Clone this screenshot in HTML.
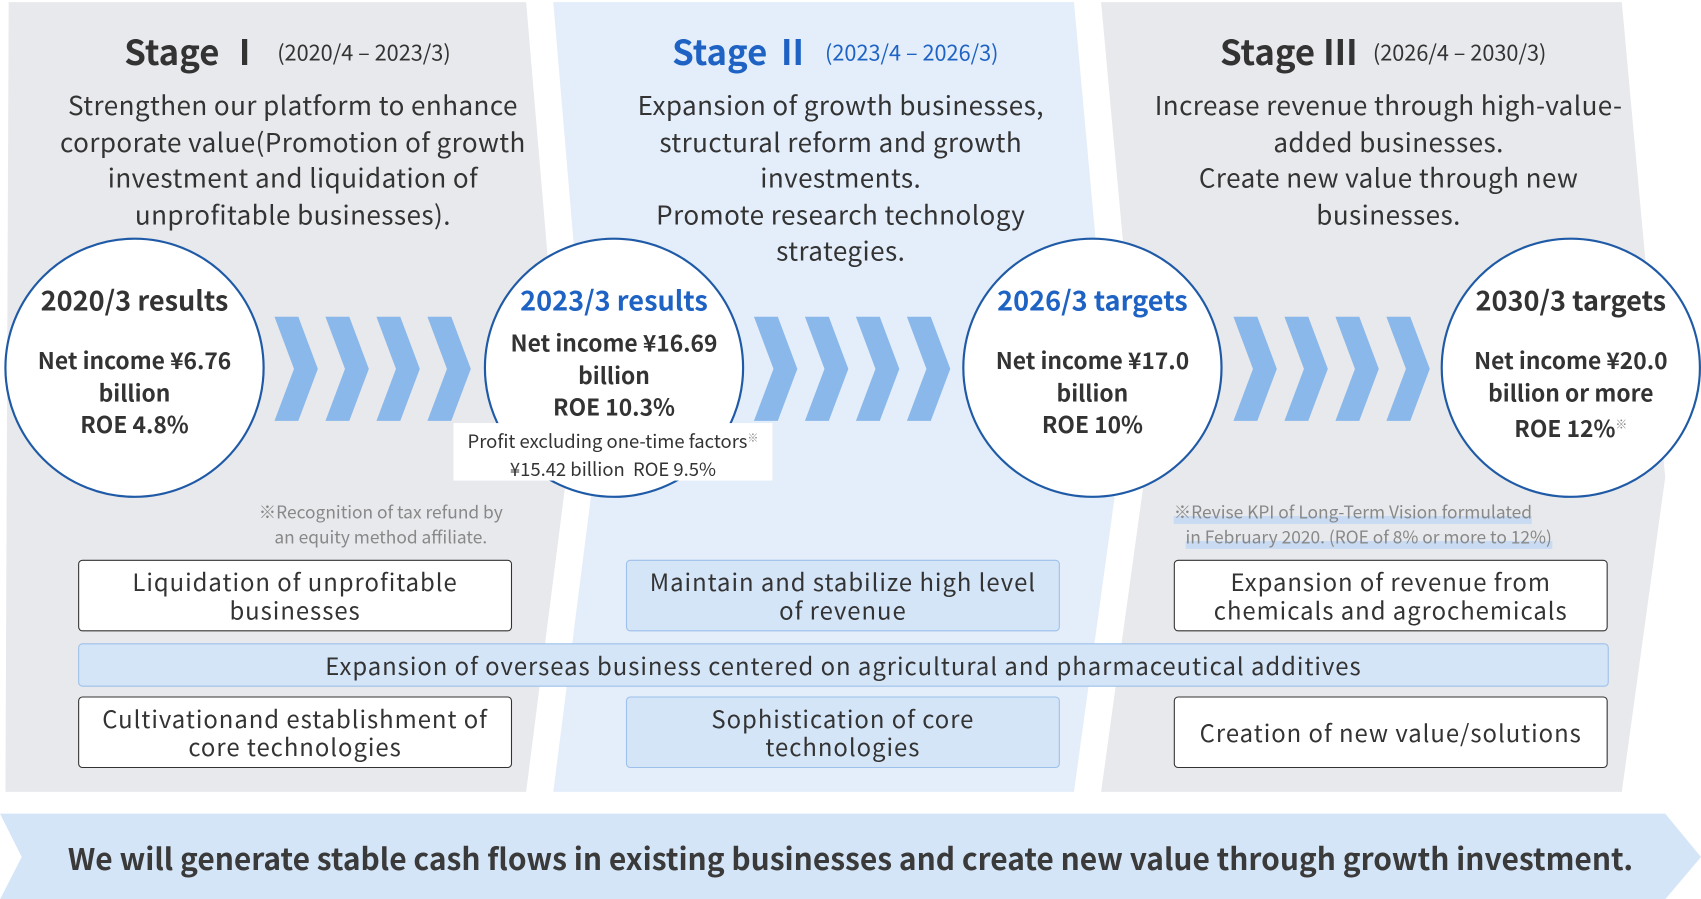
<!DOCTYPE html>
<html><head><meta charset="utf-8"><style>
html,body{margin:0;padding:0;background:#fff;overflow:hidden}
body{width:1701px;height:899px}
#w{position:absolute;left:0;top:0;width:1568px;height:829px;transform:scale(1.08482);transform-origin:0 0;font-family:"Noto Sans CJK JP","Liberation Sans",sans-serif;color:#333}
.a{position:absolute;text-align:center}
.t{font-size:32px;font-weight:bold;white-space:nowrap;line-height:40px}
.t small{font-size:20px;font-weight:normal;margin-left:14px;vertical-align:4px}
.d{font-size:24px;line-height:33.5px;letter-spacing:0.4px}
.c{position:absolute;width:236px;height:236px;border:2px solid #1f5aa6;border-radius:50%;background:#fff;text-align:center}
.c h3{margin:0;position:absolute;left:0;right:0;font-size:25px;font-weight:bold;line-height:34px}
.c p{margin:0;position:absolute;left:0;right:0;font-size:21px;font-weight:bold;line-height:29.5px}
.b{position:absolute;width:400px;height:66px;border:1.5px solid #333;border-radius:4px;background:#fff;display:flex;align-items:center;justify-content:center;text-align:center;font-size:22px;line-height:26px;box-sizing:border-box;padding:0 4px;letter-spacing:0.9px}
.bl{background:#d5e5f8;border-color:#9dc0ea}
.n{position:absolute;font-size:16px;color:#888;line-height:23px}
</style></head><body><div id="w">
<svg width="1568" height="829" style="position:absolute;left:0;top:0">
<polygon points="8,2 485,2 522,440 485,730 5,730" fill="#e8e9ec"/>
<polygon points="510,2 990,2 1030,440 990,730 510,730 547,440" fill="#e4eefa"/>
<polygon points="1015,2 1495,2 1535,440 1495,730 1015,730 1055,440" fill="#e8e9ec"/>
<polygon points="0,750 1535,750 1568,790 1535,829 0,829 20,790" fill="#d5e5f8"/>
<g fill="#8ab8ea">
<g id="ch"><polygon points="253,292 275,292 293,340 275,388 253,388 271,340"/><polygon points="300,292 322,292 340,340 322,388 300,388 318,340"/><polygon points="347,292 369,292 387,340 369,388 347,388 365,340"/><polygon points="394,292 416,292 434,340 416,388 394,388 412,340"/></g>
<use href="#ch" x="442"/><use href="#ch" x="884"/>
</g>
</svg>
<div class="a t" style="left:0;width:530px;top:27px">Stage Ⅰ<small>(2020/4 – 2023/3)</small></div>
<div class="a t" style="left:505px;width:530px;top:27px;color:#1e63c4">Stage Ⅱ<small>(2023/4 – 2026/3)</small></div>
<div class="a t" style="left:1010px;width:530px;top:27px">Stage Ⅲ<small>(2026/4 – 2030/3)</small></div>
<div class="a d" style="left:10px;width:520px;top:79px">Strengthen our platform to enhance<br>corporate value(Promotion of growth<br>investment and liquidation of<br>unprofitable businesses).</div>
<div class="a d" style="left:515px;width:520px;top:79px">Expansion of growth businesses,<br>structural reform and growth<br>investments.<br>Promote research technology<br>strategies.</div>
<div class="a d" style="left:1020px;width:520px;top:79px">Increase revenue through high-value-<br>added businesses.<br>Create new value through new<br>businesses.</div>
<div class="c" style="left:4px;top:219px"><h3 style="top:38px">2020/3 results</h3><p style="top:97px">Net income ¥6.76<br>billion<br>ROE 4.8%</p></div>
<div class="c" style="left:446px;top:219px"><h3 style="top:38px;color:#1e63c4">2023/3 results</h3><p style="top:81px">Net income ¥16.69<br>billion<br>ROE 10.3%</p></div>
<div class="c" style="left:887px;top:219px"><h3 style="top:38px;color:#1e63c4">2026/3 targets</h3><p style="top:97px">Net income ¥17.0<br>billion<br>ROE 10%</p></div>
<div class="c" style="left:1328px;top:219px"><h3 style="top:38px">2030/3 targets</h3><p style="top:97px">Net income ¥20.0<br>billion or more<br>ROE 12%<span style="font-size:11px;font-weight:normal;color:#888;vertical-align:8px">※</span></p></div>
<div class="a" style="left:418px;width:294px;top:390px;height:53px;background:#fff;font-size:17px;line-height:26px">Profit excluding one-time factors<span style="font-size:10px;color:#888;vertical-align:6px">※</span><br>¥15.42 billion&nbsp; ROE 9.5%</div>
<div class="n" style="left:228px;top:460px;text-align:center;width:246px">※Recognition of tax refund by<br>an equity method affiliate.</div>
<div class="n" style="left:1082px;top:460px"><span style="background:linear-gradient(transparent 70%,#c9dbf2 70%)">※Revise KPI of Long-Term Vision formulated</span><br>&nbsp;&nbsp;&nbsp;<span style="background:linear-gradient(transparent 70%,#c9dbf2 70%)">in February 2020. (ROE of 8% or more to 12%)</span></div>
<div class="b" style="left:72px;top:516px">Liquidation of unprofitable<br>businesses</div>
<div class="b bl" style="left:577px;top:516px">Maintain and stabilize high level<br>of revenue</div>
<div class="b" style="left:1082px;top:516px">Expansion of revenue from<br>chemicals and agrochemicals</div>
<div class="b bl" style="left:72px;top:593px;width:1411px;height:40px">Expansion of overseas business centered on agricultural and pharmaceutical additives</div>
<div class="b" style="left:72px;top:642px">Cultivationand establishment of<br>core technologies</div>
<div class="b bl" style="left:577px;top:642px">Sophistication of core<br>technologies</div>
<div class="b" style="left:1082px;top:642px">Creation of new value/solutions</div>
<div class="a" style="left:0;width:1568px;top:770px;font-size:27.6px;font-weight:bold;color:#3a3a3a;line-height:40px">We will generate stable cash flows in existing businesses and create new value through growth investment.</div>
</div></body></html>
